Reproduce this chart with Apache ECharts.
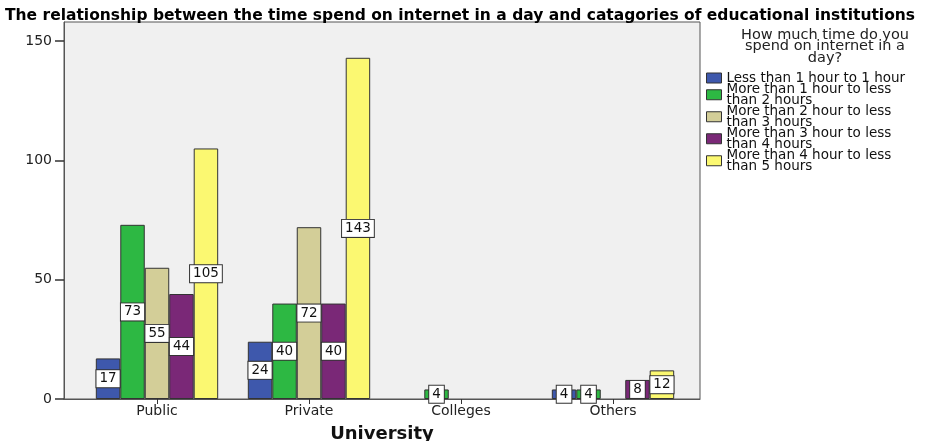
<!DOCTYPE html>
<html>
<head>
<meta charset="utf-8">
<script src="https://cdn.jsdelivr.net/npm/echarts@6/dist/echarts.min.js"></script>
<style>html,body{margin:0;padding:0;background:#fff}#c{width:929px;height:441px}</style>
</head>
<body>
<div id="c"></div>
<script>
const categories = ['Public', 'Private', 'Colleges', 'Others'];
const seriesNames = [
  'Less than 1 hour to 1 hour',
  'More than 1 hour to less\nthan 2 hours',
  'More than 2 hour to less\nthan 3 hours',
  'More than 3 hour to less\nthan 4 hours',
  'More than 4 hour to less\nthan 5 hours'
];
const lessThan1 = [17, 24, 0, 4];
const oneToTwo = [73, 40, 4, 4];
const twoToThree = [55, 72, 0, 0];
const threeToFour = [44, 40, 0, 8];
const fourToFive = [105, 143, 0, 12];
const yTicks = [0, 50, 100, 150];
const colors = ['#3e58ac', '#2db843', '#d3ce98', '#7a2877', '#fbf871'];

const allValues = [lessThan1, oneToTwo, twoToThree, threeToFour, fourToFive];
const yMax = 158;
const font = '"DejaVu Sans", Verdana, sans-serif';

const series = allValues.map((vals, i) => ({
  name: seriesNames[i],
  type: 'bar',
  xAxisIndex: 1,
  yAxisIndex: 1,
  barGap: '0%',
  barCategoryGap: '19.5%',
  data: vals.map(v => v === 0 ? null : v),
  itemStyle: { color: colors[i], borderColor: '#333', borderWidth: 1 },
  label: {
    show: true,
    position: 'inside',
    color: '#111',
    fontFamily: font,
    fontSize: 13.5,
    backgroundColor: '#fff',
    borderColor: '#333',
    borderWidth: 1,
    padding: [2, 3, 1, 3]
  }
}));

const chart = echarts.init(document.getElementById('c'));
chart.setOption({
  animation: false,
  backgroundColor: '#fff',
  textStyle: { fontFamily: font },
  title: [
    {
      text: 'The relationship between the time spend on internet in a day and catagories of educational institutions',
      left: 0, top: 3,
      textStyle: { fontSize: 15.5, fontWeight: 'bold', color: '#000', fontFamily: font }
    },
    {
      text: 'How much time do you\nspend on internet in a\nday?',
      left: 820, top: 24, textAlign: 'center',
      textStyle: { fontSize: 14.5, fontWeight: 'normal', color: '#222', lineHeight: 11.5, fontFamily: font }
    }
  ],
  legend: {
    orient: 'vertical',
    left: 706, top: 71,
    padding: 0,
    itemWidth: 15, itemHeight: 10,
    itemGap: -2.5,
    icon: 'rect',
    itemStyle: { borderColor: '#333', borderWidth: 1 },
    textStyle: { fontSize: 13.5, color: '#111', lineHeight: 10.5, padding: [0, 0, 0, 0], fontFamily: font },
    data: seriesNames
  },
  grid: [
    { left: 64, right: 229, top: 22, bottom: 42, outerBoundsMode: 'none', containLabel: false, show: true, backgroundColor: '#f0f0f0', borderColor: '#555', borderWidth: 1 },
    { left: 81, right: 240, top: 22, bottom: 42, outerBoundsMode: 'none', containLabel: false }
  ],
  xAxis: [
    {
      gridIndex: 0, type: 'category', data: [''],
      axisLine: { lineStyle: { color: '#555' } },
      axisTick: { show: false }, axisLabel: { show: false },
      name: 'University', nameLocation: 'middle', nameGap: 26,
      nameTextStyle: { fontSize: 18, fontWeight: 'bold', color: '#111', fontFamily: font }
    },
    {
      gridIndex: 1, type: 'category', data: categories,
      axisLine: { show: false },
      axisTick: { show: true, alignWithLabel: true, length: 5, lineStyle: { color: '#333' } },
      axisLabel: { fontSize: 14, color: '#222', margin: 5, fontFamily: font }
    }
  ],
  yAxis: [
    {
      gridIndex: 0, type: 'value', min: 0, max: yMax, interval: 50,
      axisLine: { show: true, lineStyle: { color: '#555' } },
      axisTick: { show: true, length: 9, lineStyle: { color: '#333', width: 1.5 } },
      axisLabel: { fontSize: 14, color: '#222', margin: 12, fontFamily: font, showMaxLabel: false,
        formatter: v => (yTicks.indexOf(v) >= 0 ? String(v) : '') },
      splitLine: { show: false }
    },
    {
      gridIndex: 1, type: 'value', min: 0, max: yMax, show: false, splitLine: { show: false }
    }
  ],
  series: series
});
</script>
</body>
</html>
